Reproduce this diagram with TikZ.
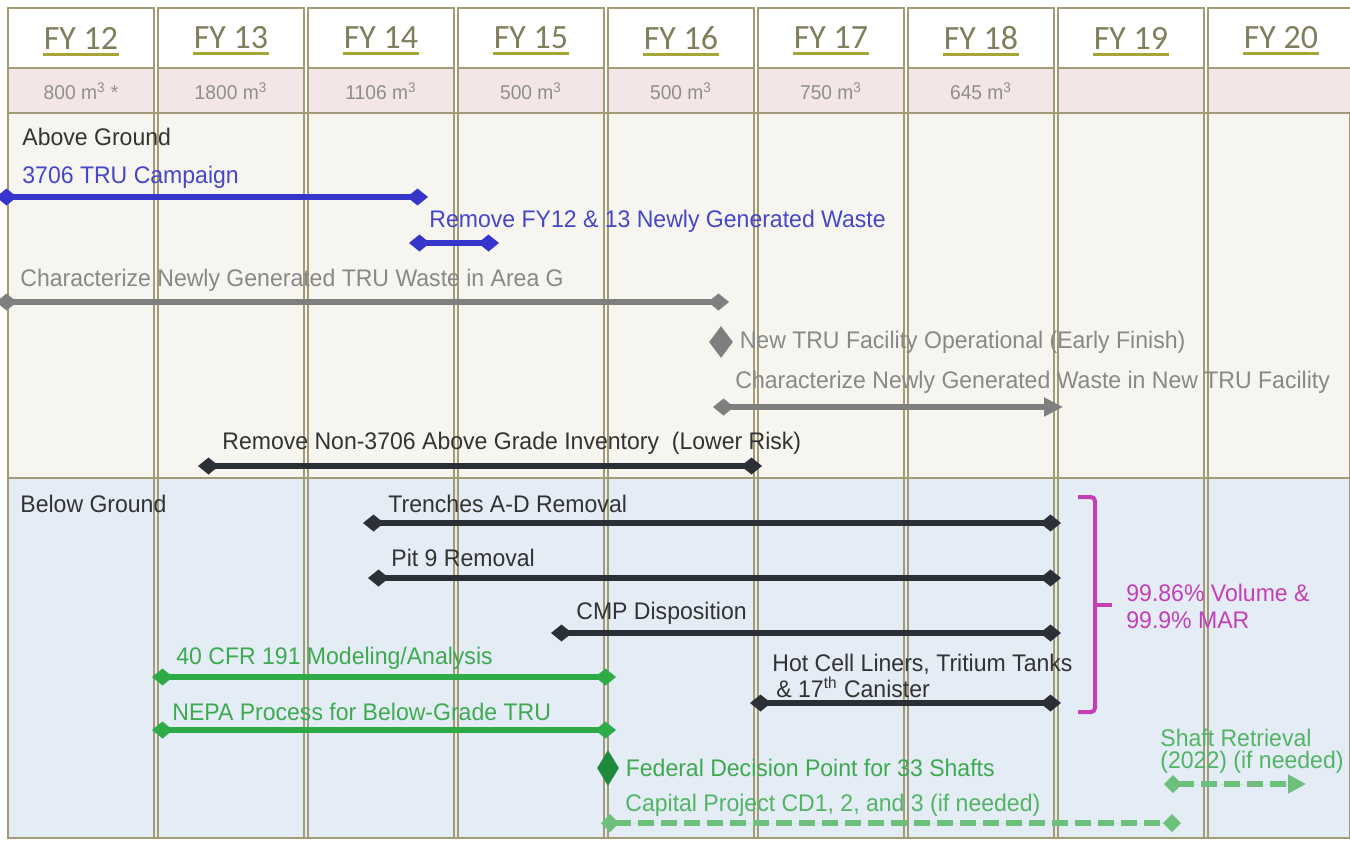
\documentclass[tikz,border=0pt]{standalone}
\usepackage{fontspec}
\setmainfont{Liberation Sans}[FakeStretch=0.96]
\newfontfamily\fyfont{Carlito}
\usetikzlibrary{arrows.meta, shapes.geometric, positioning}

\definecolor{colline}{HTML}{A39B76}
\definecolor{fytext}{HTML}{807E5C}
\definecolor{fyline}{HTML}{A6A636}
\definecolor{volbg}{HTML}{F4E6E6}
\definecolor{voltext}{HTML}{8E8E8E}
\definecolor{abovebg}{HTML}{F7F5EF}
\definecolor{belowbg}{HTML}{E4ECF6}
\definecolor{bluebar}{HTML}{3535CC}
\definecolor{bluetext}{HTML}{4646C8}
\definecolor{graybar}{HTML}{7F7F7F}
\definecolor{graytext}{HTML}{888888}
\definecolor{darkbar}{HTML}{2B2F36}
\definecolor{darktext}{HTML}{333333}
\definecolor{greenbar}{HTML}{2EAA46}
\definecolor{greentext}{HTML}{3EAA50}
\definecolor{msgreen}{HTML}{1F8A3B}
\definecolor{dashgreen}{HTML}{6CC07C}
\definecolor{dashtext}{HTML}{52B464}
\definecolor{bracket}{HTML}{C43FB6}

\begin{document}
\begin{tikzpicture}[x=0.5pt, y=-0.5pt,
                    every node/.style={inner sep=0pt},
                    fyhead/.style={font=\fyfont\fontsize{17}{17}\selectfont, text=fytext},
                    volume/.style={font=\fontsize{10}{10}\selectfont, text=voltext},
                    task/.style={anchor=west, align=left, font=\fontsize{12}{11}\selectfont},
                    bar/.style={line width=3pt, {Diamond[length=10.5pt,width=8.5pt]}-{Diamond[length=10.5pt,width=8.5pt]}},
                    dashbar/.style={line width=2.6pt, dash pattern=on 8pt off 3.5pt, draw=dashgreen, fill=dashgreen},
                    milestone/.style={diamond, minimum width=12pt, minimum height=16pt}]
    \useasboundingbox (0,0) rectangle (1350,842);
    % sections
    \fill[abovebg] (8,113) rectangle (1350,478);
    \fill[belowbg] (8,478) rectangle (1350,838);
    % year columns
    \foreach \fy/\vol [count=\i from 0] in {12/800 m\textsuperscript{3} *, 13/1800 m\textsuperscript{3},
        14/1106 m\textsuperscript{3}, 15/500 m\textsuperscript{3}, 16/500 m\textsuperscript{3},
        17/750 m\textsuperscript{3}, 18/645 m\textsuperscript{3}, 19/{}, 20/{}} {
        \fill[white] (8+150*\i,8) rectangle (154+150*\i,68);
        \fill[volbg] (8+150*\i,68) rectangle (154+150*\i,113);
        \draw[colline, line width=0.75pt] (8+150*\i,8) rectangle (154+150*\i,838);
        \draw[colline, line width=0.75pt] (8+150*\i,68) -- (154+150*\i,68);
        \node[fyhead] (fy\fy) at (81+150*\i,38) {FY \fy};
        \draw[fyline, line width=1.5pt] ([yshift=-2.5pt]fy\fy.base west) -- ([yshift=-2.5pt]fy\fy.base east);
        \node[volume] (vol\fy) at (81+150*\i,91) {\vol};
    }
    \draw[colline, line width=0.75pt] (8,113) rectangle (1350,478);
    \draw[colline, line width=0.75pt] (8,478) rectangle (1350,838);

    % above ground
    \node[task, text=darktext]  (above)    at (22,137)  {Above Ground};
    \node[task, text=bluetext]  (campaign) at (22,177)  {3706 TRU Campaign};
    \node[task, text=bluetext]  (newgen)   at (429,221) {Remove FY12 \& 13 Newly Generated Waste};
    \node[task, text=graytext]  (areag)    at (20,280)  {Characterize Newly Generated TRU Waste in Area G};
    \node[milestone, fill=graybar] (trufac) at (721,342) {};
    \node[task, text=graytext, right=3pt of trufac] (trufactext) {New TRU Facility Operational (Early Finish)};
    \node[task, text=graytext]  (newfac)   at (735,382) {Characterize Newly Generated Waste in New TRU Facility};
    \node[task, text=darktext]  (non3706)  at (222,443) {Remove Non-3706 Above Grade Inventory \ (Lower Risk)};

    \coordinate (campaign-s) at (-4,197);  \coordinate (campaign-e) at (428,197);
    \coordinate (newgen-s)   at (409,243); \coordinate (newgen-e)   at (499,243);
    \coordinate (areag-s)    at (-4,302);  \coordinate (areag-e)    at (729,302);
    \coordinate (newfac-s)   at (713,407); \coordinate (newfac-e)   at (1063,407);
    \coordinate (non3706-s)  at (198,466); \coordinate (non3706-e)  at (762,466);

    \draw[bar, bluebar] (campaign-s) -- (campaign-e);
    \draw[bar, bluebar] (newgen-s) -- (newgen-e);
    \draw[bar, graybar] (areag-s) -- (areag-e);
    \draw[bar, graybar, {Diamond[length=10.5pt,width=8.5pt]}-{Triangle[length=9.5pt,width=9pt]}] (newfac-s) -- (newfac-e);
    \draw[bar, darkbar] (non3706-s) -- (non3706-e);

    % below ground
    \node[task, text=darktext]  (below)    at (20,504)  {Below Ground};
    \node[task, text=darktext]  (trenches) at (388,504) {Trenches A-D Removal};
    \node[task, text=darktext]  (pit)      at (391,558) {Pit 9 Removal};
    \node[task, text=darktext]  (cmp)      at (576,613) {CMP Disposition};
    \node[task, text=greentext] (cfr)      at (176,658) {40 CFR 191 Modeling/Analysis};
    \node[task, text=darktext]  (hotcell)  at (772,676) {Hot Cell Liners, Tritium Tanks\\ \hspace{2pt}\& 17\textsuperscript{th} Canister};
    \node[task, text=greentext] (nepa)     at (172,712) {NEPA Process for Below-Grade TRU};
    \node[milestone, fill=msgreen, minimum width=11pt, minimum height=18pt] (federal) at (608,768) {};
    \node[task, text=greentext, right=3pt of federal] (federaltext) {Federal Decision Point for 33 Shafts};
    \node[task, text=dashtext]  (capital)  at (625,805) {Capital Project CD1, 2, and 3 (if needed)};
    \node[task, text=dashtext]  (shaft)    at (1160,751) {Shaft Retrieval\\(2022) (if needed)};
    \node[task, text=bracket, font=\fontsize{12}{13.5}\selectfont] (mar) at (1126,606) {99.86\% Volume \&\\99.9\% MAR};

    \coordinate (trenches-s) at (363,523); \coordinate (trenches-e) at (1061,523);
    \coordinate (pit-s)      at (368,578); \coordinate (pit-e)      at (1061,578);
    \coordinate (cmp-s)      at (551,633); \coordinate (cmp-e)      at (1061,633);
    \coordinate (cfr-s)      at (152,677); \coordinate (cfr-e)      at (616,677);
    \coordinate (hotcell-s)  at (750,703); \coordinate (hotcell-e)  at (1061,703);
    \coordinate (nepa-s)     at (152,730); \coordinate (nepa-e)     at (616,730);
    \coordinate (capital-s)  at (601,823); \coordinate (capital-e)  at (1181,823);
    \coordinate (shaft-s)    at (1164,784); \coordinate (shaft-e)   at (1306,784);

    \draw[bar, darkbar] (trenches-s) -- (trenches-e);
    \draw[bar, darkbar] (pit-s) -- (pit-e);
    \draw[bar, darkbar] (cmp-s) -- (cmp-e);
    \draw[bar, darkbar] (hotcell-s) -- (hotcell-e);
    \draw[bar, greenbar] (cfr-s) -- (cfr-e);
    \draw[bar, greenbar] (nepa-s) -- (nepa-e);
    \draw[dashbar, {Diamond[length=9pt,width=9pt]}-{Diamond[length=9pt,width=9pt]}] (capital-s) -- (capital-e);
    \draw[dashbar, {Diamond[length=9pt,width=9pt]}-{Triangle[length=9pt,width=9pt]}] (shaft-s) -- (shaft-e);

    % bracket round the removals
    \draw[bracket, line width=2pt, rounded corners=2pt] (1078,497) -- (1095,497) -- (1095,712) -- (1078,712);
    \draw[bracket, line width=2pt] (1095,605) -- (1112,605);
\end{tikzpicture}
\end{document}
